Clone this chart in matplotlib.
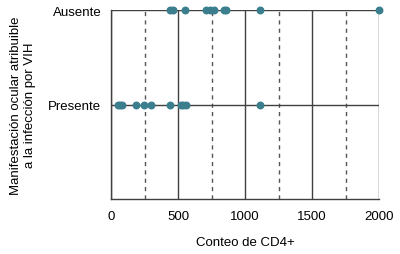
import numpy as np
import matplotlib
matplotlib.use("Agg")
import matplotlib.pyplot as plt
from matplotlib.ticker import MultipleLocator

plt.rcParams['font.family'] = ['Liberation Sans', 'DejaVu Sans']

# ── DATA ─────────────────────────────────────────────────────────────────────
categories = ["Presente", "Ausente"]
cd4_ausente = [444, 462, 549, 706, 736, 769, 841, 861, 1113, 2000]
cd4_presente = [55, 67, 82, 187, 245, 302, 444, 524, 541, 557, 1113]

# ── PLOT ─────────────────────────────────────────────────────────────────────
fig = plt.figure(figsize=(4.0, 2.55), dpi=100)
ax = fig.add_axes([0.2775, 0.2157, 0.67, 0.741])

ax.set_xlim(0, 2000)
ax.set_ylim(0, 2)
ax.xaxis.set_major_locator(MultipleLocator(500))
ax.xaxis.set_minor_locator(MultipleLocator(250))
ax.set_yticks([1, 2])
ax.set_yticklabels(categories)

ax.grid(True, which="major", axis="both", color="#404040", lw=1.0, zorder=1)
ax.grid(True, which="minor", axis="x", color="#555555", lw=1.0,
        ls=(0, (3, 3)), zorder=1)

color = "#3b7f8f"
ax.scatter(cd4_ausente, [2] * len(cd4_ausente), s=22, color=color,
           zorder=3, clip_on=False)
ax.scatter(cd4_presente, [1] * len(cd4_presente), s=22, color=color,
           zorder=3, clip_on=False)

for side in ["top", "right"]:
    ax.spines[side].set_visible(False)
for side in ["left", "bottom"]:
    ax.spines[side].set_color("#404040")
    ax.spines[side].set_linewidth(1.0)

ax.tick_params(axis="both", which="both", length=0, labelsize=9.5,
               colors="black", pad=7)
ax.tick_params(axis="x", pad=8)

ax.set_xlabel("Conteo de CD4+", fontsize=9.5, labelpad=10)
ax.set_ylabel("Manifestación ocular atribuible\na la infección por VIH",
              fontsize=9.5, labelpad=9)

fig.savefig("out.png", dpi=100)
